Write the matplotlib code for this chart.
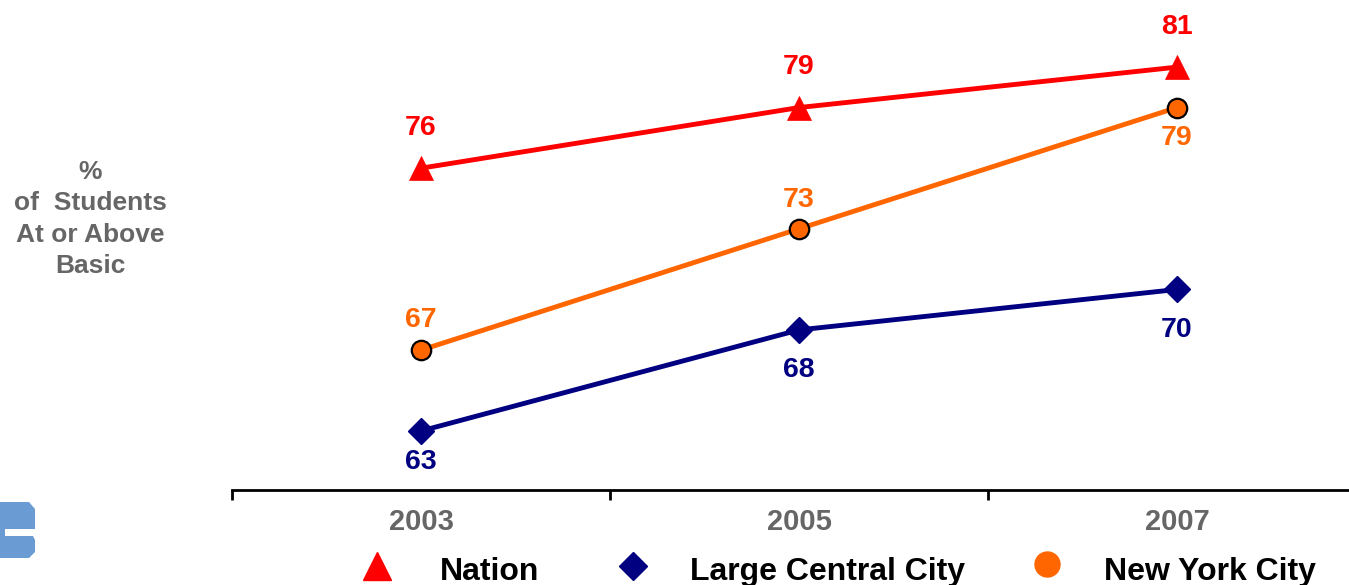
import matplotlib
matplotlib.use("Agg")
import matplotlib.pyplot as plt
from matplotlib.lines import Line2D
from matplotlib.patches import Polygon

plt.rcParams['font.family'] = ['Liberation Sans', 'DejaVu Sans']

years = ["2003", "2005", "2007"]
nation = [76, 79, 81]
large_central_city = [63, 68, 70]
new_york_city = [67, 73, 79]
series_names = ["Nation", "Large Central City", "New York City"]

RED = "#FF0000"
NAVY = "#000080"
ORANGE = "#FF6600"
GREY = "#666666"

W, H = 1349, 585
fig = plt.figure(figsize=(W / 100, H / 100), dpi=100)

def fx(px):
    return px / W

def fy(py):
    return 1 - py / H

ax = fig.add_axes([fx(232), fy(490), (1349 - 232) / W, 490 / H])
x = list(range(len(years)))

ax.plot(x, nation, color=RED, lw=3.5, marker='^', ms=17, mec=RED, mew=0.5,
        mfc=RED, clip_on=False, zorder=3)
ax.plot(x, new_york_city, color=ORANGE, lw=3.5, marker='o', ms=14, mfc=ORANGE,
        mec='black', mew=1.6, clip_on=False, zorder=3)
ax.plot(x, large_central_city, color=NAVY, lw=3.5, marker='D', ms=13, mec=NAVY,
        mfc=NAVY, clip_on=False, zorder=3)

lab_kw = dict(textcoords='offset points', ha='center', va='center',
              fontsize=20.5, fontweight='bold', annotation_clip=False)
for xi, v in zip(x, nation):
    ax.annotate(str(v), (xi, v), xytext=(0, 29), color=RED, **lab_kw)
nyc_off = [22, 21, -22]
for xi, v, o in zip(x, new_york_city, nyc_off):
    ax.annotate(str(v), (xi, v), xytext=(0, o), color=ORANGE, **lab_kw)
lcc_off = [-22, -29, -29]
for xi, v, o in zip(x, large_central_city, lcc_off):
    ax.annotate(str(v), (xi, v), xytext=(0, o), color=NAVY, **lab_kw)

ax.set_xlim(-0.5, -0.5 + 1117 / 378)
ax.set_ylim(60.08, 84.32)
for s in ['left', 'right', 'top']:
    ax.spines[s].set_visible(False)
ax.spines['bottom'].set_linewidth(2)
ax.spines['bottom'].set_color('black')
ax.set_yticks([])
ax.set_xticks([-0.5, 0.5, 1.5])
ax.set_xticklabels([])
ax.tick_params(axis='x', direction='out', length=7, width=2, color='black')
for xi, yr in zip(x, years):
    ax.text(xi, -0.066, yr, transform=ax.get_xaxis_transform(), ha='center',
            va='center', fontsize=21, fontweight='bold', color=GREY)

fig.text(fx(90), fy(219), "%\nof  Students\nAt or Above\nBasic", ha='center',
         va='center', fontsize=19, fontweight='bold', color=GREY, linespacing=1.38)

# legend
fig.add_artist(Line2D([fx(377)], [fy(566)], marker='^', ms=20, color=RED, ls='none',
                      transform=fig.transFigure))
fig.add_artist(Line2D([fx(633)], [fy(566)], marker='D', ms=14, color=NAVY, ls='none',
                      transform=fig.transFigure))
fig.add_artist(Line2D([fx(1047)], [fy(564)], marker='o', ms=18, color=ORANGE, ls='none',
                      transform=fig.transFigure))
for px, name in zip([440, 690, 1104], series_names):
    fig.text(fx(px), fy(580), name, ha='left', va='baseline', fontsize=23,
             fontweight='bold', color='black')

# partial logo at bottom-left
LOGO = "#6A9BD3"
top = [(0, 502), (29, 502), (35, 509), (35, 529), (0, 529)]
bot = [(0, 536), (33, 536), (35, 540), (35, 552), (29, 558), (0, 558)]
link = [(0, 527), (5, 527), (5, 538), (0, 538)]
for poly in (top, bot, link):
    fig.add_artist(Polygon([(fx(a), fy(b)) for a, b in poly], closed=True,
                           facecolor=LOGO, edgecolor='none',
                           transform=fig.transFigure))

fig.savefig("out.png", dpi=100)
